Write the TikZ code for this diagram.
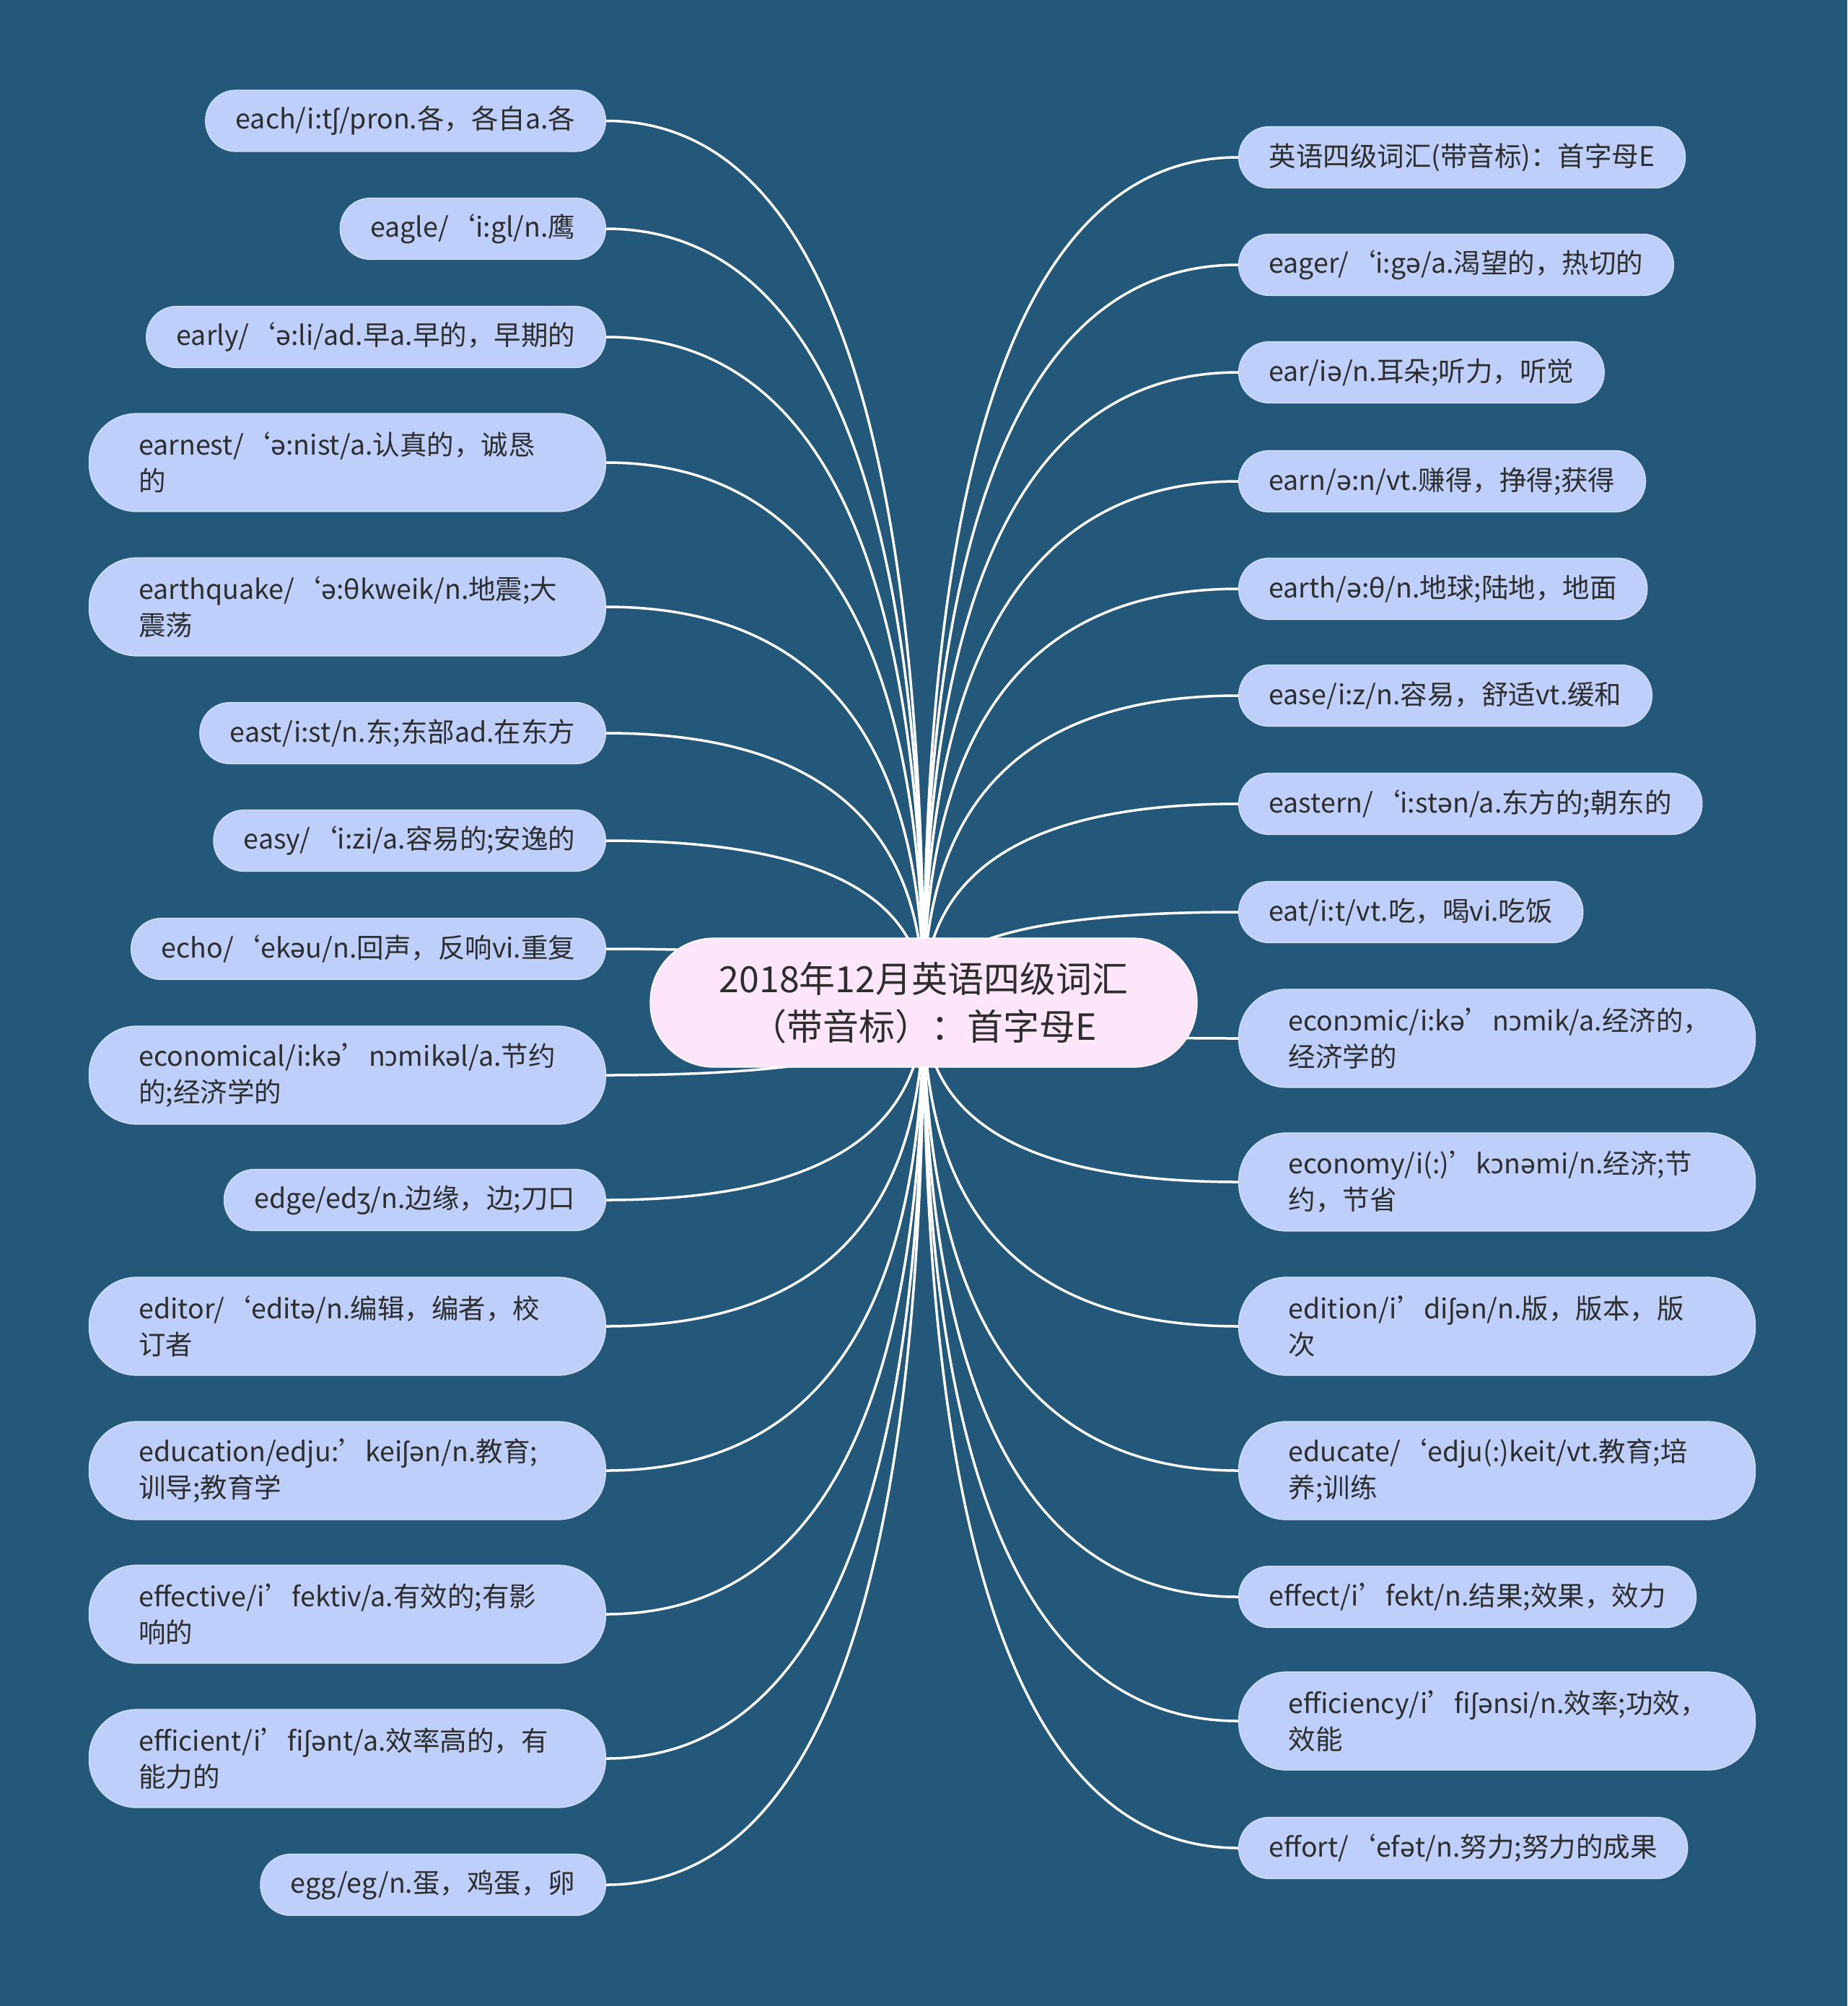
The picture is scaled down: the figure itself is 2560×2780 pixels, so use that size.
\documentclass[tikz,border=0pt]{standalone}
\usepackage{fontspec}
\setmainfont{Noto Sans CJK SC}
\newfontfamily\ipafont{Noto Sans}
\newcommand\ip[1]{{\ipafont #1}}
\usetikzlibrary{calc}
\definecolor{bgc}{RGB}{35,88,122}
\definecolor{leaffill}{RGB}{189,207,250}
\definecolor{leafedge}{RGB}{215,226,252}
\definecolor{rootfill}{RGB}{253,229,250}
\definecolor{txt}{RGB}{45,45,45}
\pgfdeclarelayer{bglayer}
\pgfdeclarelayer{lines}
\pgfsetlayers{bglayer,lines,main}
\tikzset{
  leaf/.style={rectangle, rounded corners=42pt, fill=leaffill, draw=leafedge, line width=1.2pt,
    text=txt, font=\fontsize{37.5}{50}\selectfont, minimum height=85pt, inner xsep=42pt, inner ysep=0pt},
  leafL/.style={leaf, anchor=east},
  leafR/.style={leaf, anchor=west},
  twoline/.style={minimum height=136pt, rounded corners=66pt, text width=578pt, align=left, inner xsep=69pt},
  rootnode/.style={rectangle, rounded corners=88pt, fill=rootfill, draw=white, line width=1.2pt,
    text=txt, font=\fontsize{50}{66}\selectfont, align=center, minimum width=758pt, minimum height=179pt},
  link/.style={draw=white, line width=3.5pt}
}
\newcommand\conn[2]{\draw[link] (root.center) .. controls ($(root.center)!0.667!(root.center |- #1.#2)$) and ($(#1.#2)!0.667!(root.center |- #1.#2)$) .. (#1.#2);}
\begin{document}
\begin{tikzpicture}[x=1pt,y=-1pt]
\begin{pgfonlayer}{bglayer}
\fill[bgc] (0,0) rectangle (2560,2780);
\end{pgfonlayer}
\useasboundingbox (0,0) rectangle (2560,2780);

\node[rootnode] (root) at (1280,1389.5) {2018年12月英语四级词汇\\（带音标）：首字母E};

% left
\node[leafL] (L1) at (840,167.5) {each/i:t\ip{ʃ}/pron.各，各自a.各};
\node[leafL] (L2) at (840,317) {eagle/‘i:gl/n.鹰};
\node[leafL] (L3) at (840,467) {early/‘\ip{ə}:li/ad.早a.早的，早期的};
\node[leafL,twoline] (L4) at (840,641) {earnest/‘\ip{ə}:nist/a.认真的，诚恳\\的};
\node[leafL,twoline] (L5) at (840,841) {earthquake/‘\ip{ə}:\ip{θ}kweik/n.地震;大\\震荡};
\node[leafL] (L6) at (840,1016) {east/i:st/n.东;东部ad.在东方};
\node[leafL] (L7) at (840,1165) {easy/‘i:zi/a.容易的;安逸的};
\node[leafL] (L8) at (840,1315) {echo/‘ek\ip{ə}u/n.回声，反响vi.重复};
\node[leafL,twoline] (L9) at (840,1490) {economical/i:k\ip{ə}’n\ip{ɔ}mik\ip{ə}l/a.节约\\的;经济学的};
\node[leafL] (L10) at (840,1663) {edge/ed\ip{ʒ}/n.边缘，边;刀口};
\node[leafL,twoline] (L11) at (840,1838) {editor/‘edit\ip{ə}/n.编辑，编者，校\\订者};
\node[leafL,twoline] (L12) at (840,2038) {education/edju:’kei\ip{ʃə}n/n.教育;\\训导;教育学};
\node[leafL,twoline] (L13) at (840,2237) {effective/i’fektiv/a.有效的;有影\\响的};
\node[leafL,twoline] (L14) at (840,2437) {efficient/i’fi\ip{ʃə}nt/a.效率高的，有\\能力的};
\node[leafL] (L15) at (840,2612) {egg/eg/n.蛋，鸡蛋，卵};

% right
\node[leafR] (R1) at (1716,218) {英语四级词汇(带音标)：首字母E};
\node[leafR] (R2) at (1716,367) {eager/‘i:g\ip{ə}/a.渴望的，热切的};
\node[leafR] (R3) at (1716,516) {ear/i\ip{ə}/n.耳朵;听力，听觉};
\node[leafR] (R4) at (1716,667) {earn/\ip{ə}:n/vt.赚得，挣得;获得};
\node[leafR] (R5) at (1716,816) {earth/\ip{ə}:\ip{θ}/n.地球;陆地，地面};
\node[leafR] (R6) at (1716,964) {ease/i:z/n.容易，舒适vt.缓和};
\node[leafR] (R7) at (1716,1114) {eastern/‘i:st\ip{ə}n/a.东方的;朝东的};
\node[leafR] (R8) at (1716,1264) {eat/i:t/vt.吃，喝vi.吃饭};
\node[leafR,twoline] (R9) at (1716,1439) {econ\ip{ɔ}mic/i:k\ip{ə}’n\ip{ɔ}mik/a.经济的，\\经济学的};
\node[leafR,twoline] (R10) at (1716,1638) {economy/i(:)’k\ip{ɔ}n\ip{ə}mi/n.经济;节\\约，节省};
\node[leafR,twoline] (R11) at (1716,1838) {edition/i’di\ip{ʃə}n/n.版，版本，版\\次};
\node[leafR,twoline] (R12) at (1716,2038) {educate/‘edju(:)keit/vt.教育;培\\养;训练};
\node[leafR] (R13) at (1716,2213) {effect/i’fekt/n.结果;效果，效力};
\node[leafR,twoline] (R14) at (1716,2385) {efficiency/i’fi\ip{ʃə}nsi/n.效率;功效，\\效能};
\node[leafR] (R15) at (1716,2561) {effort/‘ef\ip{ə}t/n.努力;努力的成果};

\begin{pgfonlayer}{lines}
\foreach \i in {1,...,15} {\conn{L\i}{east}}
\foreach \i in {1,...,15} {\conn{R\i}{west}}
\end{pgfonlayer}
\end{tikzpicture}
\end{document}
